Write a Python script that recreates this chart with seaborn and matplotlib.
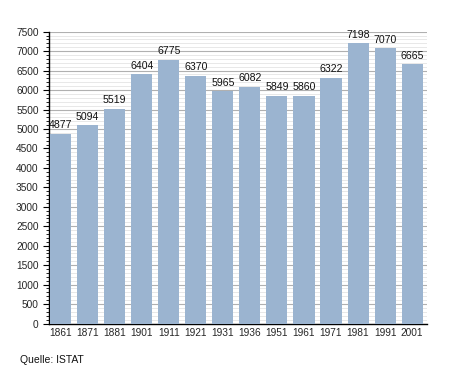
import matplotlib
matplotlib.use("Agg")
import matplotlib.pyplot as plt
import seaborn as sns
import pandas as pd
from matplotlib.ticker import MultipleLocator

years = ["1861", "1871", "1881", "1901", "1911", "1921", "1931", "1936",
         "1951", "1961", "1971", "1981", "1991", "2001"]
population = [4877, 5094, 5519, 6404, 6775, 6370, 5965, 6082,
              5849, 5860, 6322, 7198, 7070, 6665]
source_text = "Quelle: ISTAT"

sns.set_theme(style="white")
plt.rcParams['font.family'] = ['Liberation Sans', 'DejaVu Sans']

df = pd.DataFrame({"Jahr": years, "Einwohner": population})

fig = plt.figure(figsize=(4.55, 3.73), dpi=100)
ax = fig.add_axes([49/455, (373-323.5)/373, (427-49)/455, (323.5-31.7)/373])

sns.barplot(data=df, x="Jahr", y="Einwohner", color="#9bb4d0",
            saturation=1, width=0.78, ax=ax, zorder=3, linewidth=0,
            edgecolor="none")

ax.set_ylim(0, 7500)
ax.set_xlim(-0.43, 13.55)
ax.yaxis.set_major_locator(MultipleLocator(500))
ax.yaxis.set_minor_locator(MultipleLocator(100))
ax.grid(which="minor", axis="y", color="#e4e4e4", linewidth=0.6, zorder=0)
ax.grid(which="major", axis="y", color="#b0b0b0", linewidth=0.8, zorder=1)
ax.set_axisbelow(True)

for s in ["top", "right"]:
    ax.spines[s].set_visible(False)
for s in ["left", "bottom"]:
    ax.spines[s].set_color("black")
    ax.spines[s].set_linewidth(1.0)

ax.tick_params(axis="y", which="major", length=4.5, width=0.8, color="black",
               labelsize=7.3, pad=3, left=True, direction="out")
ax.tick_params(axis="y", which="minor", length=2.2, width=0.6, color="black",
               left=True, direction="out")
ax.tick_params(axis="x", length=0, labelsize=7.3, pad=3)
ax.set_xlabel("")
ax.set_ylabel("")

for i, v in enumerate(population):
    ax.text(i, v + 90, str(v), ha="center", va="bottom", fontsize=7.6,
            color="#111111")

fig.text(20/455, 1 - 360/373, source_text, fontsize=7.5, ha="left",
         va="center", color="#111111")

fig.savefig("out.png", dpi=100, facecolor="white")
